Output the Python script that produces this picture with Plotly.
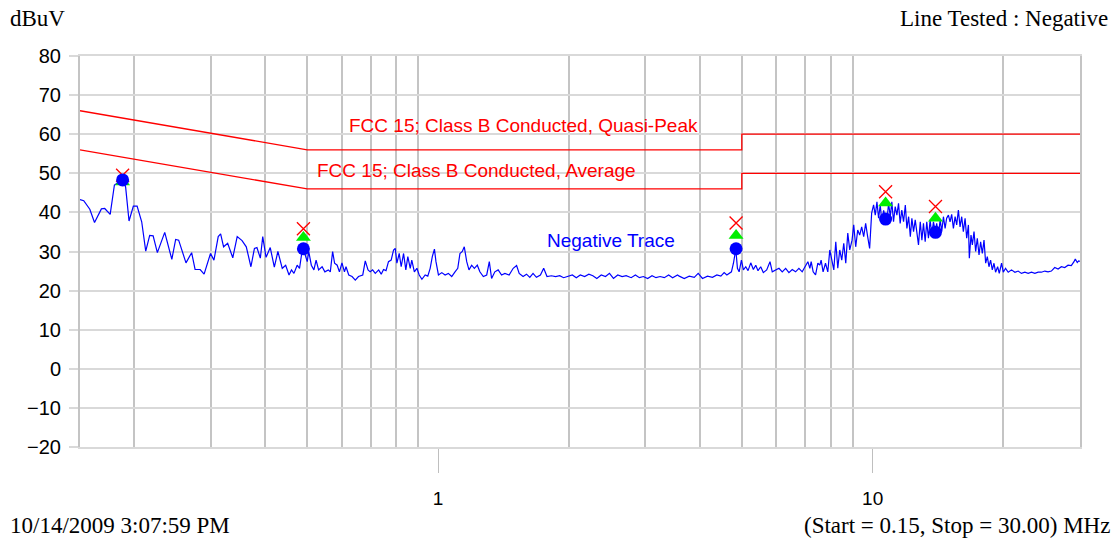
import math
import plotly.graph_objects as go

# ---- Data ----
trace_freq = [
    0.150, 0.153, 0.158, 0.162, 0.168, 0.171, 0.176, 0.180, 0.185, 0.188, 0.191, 0.1945, 0.199, 0.203,
    0.208, 0.2125, 0.217, 0.221, 0.226, 0.235, 0.244, 0.249, 0.253, 0.263, 0.271, 0.276, 0.2835, 0.2895,
    0.2995, 0.305, 0.312, 0.316, 0.321, 0.328, 0.337, 0.345, 0.354, 0.362, 0.371, 0.378, 0.383, 0.390,
    0.395, 0.402, 0.411, 0.420, 0.428, 0.438, 0.446, 0.454, 0.460, 0.466, 0.474, 0.480, 0.485, 0.490,
    0.500, 0.504, 0.511, 0.518, 0.524, 0.531, 0.541, 0.549, 0.559, 0.565, 0.572, 0.578, 0.586, 0.593,
    0.601, 0.609, 0.614, 0.623, 0.634, 0.645, 0.656, 0.671, 0.680, 0.690, 0.698, 0.707, 0.717, 0.730,
    0.740, 0.749, 0.759, 0.769, 0.780, 0.790, 0.797, 0.804, 0.814, 0.8225, 0.833, 0.843, 0.852, 0.863,
    0.870, 0.882, 0.894, 0.905, 0.918, 0.934, 0.947, 0.959, 0.970, 0.981, 0.989, 1.002, 1.020, 1.038,
    1.056, 1.075, 1.094, 1.110, 1.123, 1.137, 1.149, 1.164, 1.178, 1.195, 1.212, 1.231, 1.248, 1.271,
    1.294, 1.312, 1.328, 1.351, 1.375, 1.400, 1.425, 1.457, 1.489, 1.516, 1.537, 1.569, 1.598, 1.626,
    1.654, 1.684, 1.720, 1.750, 1.781, 1.823, 1.865, 1.905, 1.945, 1.990, 2.037, 2.080, 2.125, 2.174,
    2.223, 2.271, 2.319, 2.374, 2.428, 2.480, 2.533, 2.591, 2.652, 2.709, 2.782, 2.845, 2.906, 2.968,
    3.036, 3.107, 3.174, 3.242, 3.316, 3.393, 3.465, 3.557, 3.589, 3.685, 3.784, 3.886, 3.968, 4.059,
    4.169, 4.280, 4.381, 4.474, 4.553, 4.619, 4.675, 4.732, 4.783, 4.818, 4.843, 4.885, 4.929, 4.989,
    5.042, 5.105, 5.168, 5.242, 5.315, 5.383, 5.448, 5.526, 5.603, 5.704, 5.805, 5.875, 5.982, 6.088,
    6.194, 6.307, 6.417, 6.531, 6.648, 6.766, 6.884, 7.009, 7.095, 7.170, 7.220, 7.297, 7.390, 7.480,
    7.558, 7.611, 7.691, 7.790, 7.885, 7.969, 8.054, 8.140, 8.225, 8.313, 8.401, 8.490, 8.581, 8.672,
    8.765, 8.857, 8.966, 9.046, 9.141, 9.239, 9.337, 9.436, 9.537, 9.636, 9.739, 9.842, 9.947, 10.05,
    10.14, 10.23, 10.32, 10.41, 10.50, 10.60, 10.71, 10.78, 10.88, 10.98, 11.07, 11.17, 11.27, 11.37,
    11.47, 11.57, 11.67, 11.78, 11.89, 11.99, 12.10, 12.21, 12.31, 12.42, 12.53, 12.64, 12.75, 12.87,
    12.98, 13.09, 13.21, 13.32, 13.44, 13.56, 13.68, 13.80, 13.95, 14.04, 14.17, 14.30, 14.42, 14.55,
    14.68, 14.80, 14.94, 15.07, 15.20, 15.34, 15.48, 15.61, 15.75, 15.89, 16.03, 16.17, 16.32, 16.46,
    16.61, 16.69, 16.84, 16.96, 17.11, 17.26, 17.41, 17.57, 17.72, 17.88, 18.04, 18.20, 18.36, 18.52,
    18.68, 18.85, 19.02, 19.18, 19.39, 19.56, 19.80, 19.98, 20.22, 20.51, 20.87, 21.25, 21.62, 22.00,
    22.40, 22.80, 23.20, 23.62, 24.03, 24.45, 24.90, 25.33, 25.78, 26.24, 26.71, 27.18, 27.67, 28.16,
    28.65, 29.06, 29.26, 29.57, 29.79, 30.00,
]
trace_dbuv = [
    43.3, 43.0, 40.8, 37.4, 40.9, 41.0, 39.5, 47.0, 47.9, 48.8, 46.5, 37.8, 41.6, 41.6,
    37.6, 30.1, 34.1, 34.0, 29.7, 34.9, 28.0, 33.1, 32.9, 27.1, 29.7, 25.4, 25.4, 24.2,
    29.5, 27.8, 33.8, 34.5, 31.2, 32.1, 28.4, 33.8, 32.8, 31.2, 26.1, 30.8, 31.0, 28.3,
    33.8, 28.5, 31.0, 26.0, 30.0, 25.7, 26.5, 24.0, 25.3, 24.4, 26.5, 25.7, 29.1, 30.6,
    27.4, 30.0, 26.5, 25.3, 27.8, 25.3, 26.1, 24.8, 25.3, 24.8, 30.0, 27.0, 26.5, 24.8,
    27.1, 24.8, 26.1, 24.0, 23.6, 22.7, 23.6, 24.0, 27.6, 25.3, 24.8, 25.3, 24.4, 25.3,
    24.2, 25.4, 25.1, 27.4, 27.8, 30.4, 30.8, 27.0, 29.5, 26.1, 29.5, 25.3, 28.7, 25.7,
    27.8, 24.8, 25.7, 24.0, 22.9, 24.0, 23.7, 25.7, 28.7, 30.6, 27.4, 24.0, 24.6, 24.0,
    24.4, 23.6, 24.8, 25.7, 29.5, 30.0, 31.2, 27.4, 25.3, 26.5, 25.7, 26.5, 24.8, 23.6,
    24.0, 27.4, 23.1, 24.8, 25.3, 24.0, 24.4, 24.0, 25.7, 26.4, 24.4, 23.6, 24.2, 23.4,
    24.4, 23.4, 24.0, 25.7, 23.6, 23.8, 23.6, 23.8, 23.3, 23.6, 24.0, 23.3, 24.0, 23.6,
    24.2, 23.8, 23.1, 24.0, 23.6, 24.4, 23.1, 24.0, 23.6, 23.8, 23.3, 24.0, 23.3, 23.6,
    23.1, 23.8, 23.3, 23.6, 23.3, 24.0, 23.3, 24.0, 23.7, 23.1, 23.7, 23.4, 24.4, 23.1,
    23.7, 23.4, 24.0, 23.7, 24.6, 24.0, 24.4, 24.8, 27.0, 29.5, 30.6, 25.7, 24.8, 27.8,
    25.3, 26.1, 25.1, 27.1, 25.4, 26.5, 25.1, 26.1, 24.6, 25.3, 27.4, 24.8, 25.3, 25.7,
    24.8, 25.7, 24.6, 25.4, 24.8, 25.7, 24.8, 26.5, 27.4, 25.7, 27.4, 24.8, 24.0, 27.0,
    26.5, 27.8, 24.8, 27.0, 24.8, 30.4, 27.8, 25.3, 32.5, 25.7, 30.4, 27.8, 32.1, 27.0,
    34.7, 30.4, 32.9, 36.8, 31.2, 35.5, 34.2, 36.3, 33.8, 37.2, 33.8, 30.8, 39.8, 41.9,
    39.3, 42.7, 38.5, 41.9, 37.6, 40.5, 38.3, 37.6, 42.3, 38.9, 42.7, 37.6, 41.5, 39.3,
    42.3, 37.2, 40.6, 37.6, 41.9, 35.9, 38.9, 33.8, 38.5, 35.1, 38.1, 34.2, 31.7, 37.6,
    32.9, 37.2, 32.5, 37.6, 33.4, 38.1, 34.2, 37.6, 34.9, 37.2, 34.2, 38.1, 35.1, 38.9,
    35.9, 38.5, 39.3, 37.6, 39.5, 35.9, 38.9, 36.8, 40.6, 36.3, 38.9, 35.1, 38.5, 33.4,
    36.8, 28.3, 34.2, 31.7, 35.1, 30.0, 33.4, 29.1, 32.5, 29.5, 32.9, 27.0, 28.7, 26.1,
    27.8, 25.3, 27.0, 24.7, 26.1, 24.4, 27.0, 24.7, 25.7, 24.7, 25.3, 24.7, 25.0, 24.4,
    24.7, 24.4, 24.7, 24.4, 24.7, 24.7, 25.0, 24.8, 25.0, 25.9, 25.5, 26.1, 25.9, 26.5,
    26.4, 27.4, 28.1, 27.2, 27.6, 27.5,
]

# Limit lines (FCC 15 Class B conducted)
qp_limit_freq = [0.15, 0.5, 5.0, 5.0, 30.0]
qp_limit_dbuv = [66, 56, 56, 60, 60]
avg_limit_freq = [0.15, 0.5, 5.0, 5.0, 30.0]
avg_limit_dbuv = [56, 46, 46, 50, 50]

# Measured points
peak_freq = [0.188, 0.490, 4.85, 10.71, 13.95]
cross_vals = [49.5, 35.8, 37.3, 45.3, 41.5]
triangle_vals = [47.8, 33.6, 34.1, 42.4, 38.5]
circle_vals = [48.3, 30.7, 30.7, 38.3, 34.9]

minor_grid = [0.2, 0.3, 0.4, 0.5, 0.6, 0.7, 0.8, 0.9, 2, 3, 4, 5, 6, 7, 8, 9, 20]
y_ticks = [-20, -10, 0, 10, 20, 30, 40, 50, 60, 70, 80]

SANS = "Arial, Liberation Sans, sans-serif"
SERIF = "Times New Roman, Liberation Serif, serif"

fig = go.Figure()
fig.add_trace(go.Scatter(x=qp_limit_freq, y=qp_limit_dbuv, mode="lines",
                         line=dict(color="#ff0000", width=1.3), hoverinfo="skip"))
fig.add_trace(go.Scatter(x=avg_limit_freq, y=avg_limit_dbuv, mode="lines",
                         line=dict(color="#ff0000", width=1.3), hoverinfo="skip"))
fig.add_trace(go.Scatter(x=trace_freq, y=trace_dbuv, mode="lines",
                         line=dict(color="#0000ff", width=1.2)))
fig.add_trace(go.Scatter(x=peak_freq, y=cross_vals, mode="markers",
                         marker=dict(symbol="x-thin", size=13,
                                     line=dict(color="#ff0000", width=1.3))))
fig.add_trace(go.Scatter(x=peak_freq, y=triangle_vals, mode="markers",
                         marker=dict(symbol="triangle-up", size=13, color="#00ee00")))
fig.add_trace(go.Scatter(x=peak_freq, y=circle_vals, mode="markers",
                         marker=dict(symbol="circle", size=13, color="#0000ff")))

annots = [
    dict(text="FCC 15; Class B Conducted, Quasi-Peak", x=0.443, y=0.8235,
         xanchor="center", yanchor="middle", font=dict(family=SANS, size=19, color="#ff0000")),
    dict(text="FCC 15; Class B Conducted, Average", x=0.396, y=0.708,
         xanchor="center", yanchor="middle", font=dict(family=SANS, size=19, color="#ff0000")),
    dict(text="Negative Trace", x=0.531, y=0.527,
         xanchor="center", yanchor="middle", font=dict(family=SANS, size=19, color="#0000ff")),
    dict(text="dBuV", x=-0.072, y=1.097, xanchor="left", yanchor="middle",
         font=dict(family=SERIF, size=23, color="black")),
    dict(text="Line Tested : Negative", x=1.030, y=1.097, xanchor="right", yanchor="middle",
         font=dict(family=SERIF, size=23, color="black")),
    dict(text="10/14/2009 3:07:59 PM", x=-0.072, y=-0.202, xanchor="left", yanchor="middle",
         font=dict(family=SERIF, size=23, color="black")),
    dict(text="(Start = 0.15, Stop = 30.00) MHz", x=1.032, y=-0.202, xanchor="right", yanchor="middle",
         font=dict(family=SERIF, size=23, color="black")),
]
for a in annots:
    a.update(xref="paper", yref="paper", showarrow=False)

fig.update_layout(
    width=1117, height=542,
    margin=dict(l=80, r=37, t=56, b=95),
    paper_bgcolor="white", plot_bgcolor="white",
    showlegend=False,
    annotations=annots,
    xaxis=dict(
        type="log", range=[math.log10(0.15), math.log10(30)],
        tickmode="array", tickvals=[1, 10], ticktext=["1", "10"],
        ticks="outside", ticklen=24, tickwidth=1, tickcolor="#bfbfbf",
        ticklabelstandoff=9,
        showgrid=False, zeroline=False,
        showline=True, linecolor="#d9d9d9", linewidth=1.5, mirror=True,
        tickfont=dict(family=SANS, size=19, color="black"),
        minor=dict(tickmode="array", tickvals=minor_grid, showgrid=True,
                   gridcolor="#c4c4c4", gridwidth=1.5, ticks=""),
    ),
    yaxis=dict(
        range=[-20, 80], tickmode="array", tickvals=y_ticks,
        ticks="outside", ticklen=9, tickcolor="#d9d9d9", tickwidth=1.5,
        ticklabelstandoff=4,
        showgrid=True, gridcolor="#d9d9d9", gridwidth=1.5, zeroline=False,
        showline=True, linecolor="#c4c4c4", linewidth=2, mirror=True,
        tickfont=dict(family=SANS, size=20, color="black"),
    ),
)

fig.write_html("out.html", config={"displayModeBar": False},
               post_script="document.body.style.margin='0px';document.body.style.overflow='hidden';")
